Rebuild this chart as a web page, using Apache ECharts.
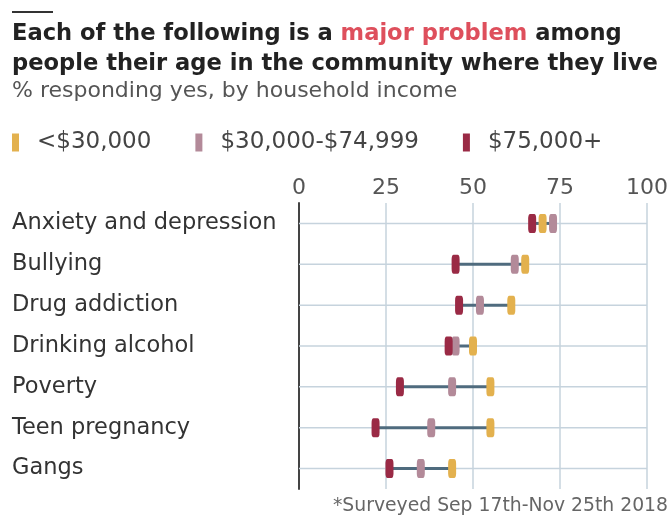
<!DOCTYPE html>
<html><head><meta charset="utf-8">
<script src="https://cdn.jsdelivr.net/npm/echarts@6/dist/echarts.min.js"></script>
<style>html,body{margin:0;padding:0;background:#fff}#c{width:671px;height:517px}</style>
</head><body><div id="c"></div>
<script>
const categories = ["Anxiety and depression","Bullying","Drug addiction","Drinking alcohol","Poverty","Teen pregnancy","Gangs"];
const seriesNames = ["<$30,000","$30,000-$74,999","$75,000+"];
const under30k = [70, 65, 61, 50, 55, 55, 44];
const mid30to75k = [73, 62, 52, 45, 44, 38, 35];
const over75k = [67, 45, 46, 43, 29, 22, 26];
const xTicks = [0, 25, 50, 75, 100];

const colors = ["#e3b14e", "#b38a99", "#9a2a45"];
const FONT = "DejaVu Sans";

const rangeData = categories.map((c, i) => {
  const v = [under30k[i], mid30to75k[i], over75k[i]];
  return [i, Math.min(...v), Math.max(...v)];
});

const chart = echarts.init(document.getElementById('c'), null, {renderer: 'canvas'});
chart.setOption({
  backgroundColor: '#fff',
  animation: false,
  textStyle: {fontFamily: FONT},
  title: {
    left: 12, top: 19, padding: 0,
    text: '{b|Each of the following is a }{r|major problem}{b| among}\n{b|people their age in the community where they live}',
    textStyle: {
      rich: {
        b: {fontFamily: FONT, fontWeight: 'bold', fontSize: 22.6, color: '#222', lineHeight: 30},
        r: {fontFamily: FONT, fontWeight: 'bold', fontSize: 22.6, color: '#de4f5c', lineHeight: 30}
      }
    }
  },
  legend: {
    left: 12, top: 131, padding: 0,
    icon: 'rect', itemWidth: 7, itemHeight: 18, itemGap: 44,
    textStyle: {fontFamily: FONT, fontSize: 23, color: '#444', padding: [0, 0, 0, 13]},
    data: seriesNames
  },
  graphic: [
    {type: 'rect', shape: {x: 12, y: 11, width: 41, height: 2}, style: {fill: '#333'}},
    {type: 'text', left: 12, top: 80, style: {text: '% responding yes, by household income', font: '22px "DejaVu Sans"', fill: '#555'}},
    {type: 'text', right: 3, top: 497, style: {text: '*Surveyed Sep 17th-Nov 25th 2018', font: '18.8px "DejaVu Sans"', fill: '#666'}}
  ],
  grid: {left: 299, right: 22, top: 203, bottom: 28, containLabel: false},
  xAxis: {
    type: 'value', position: 'top', min: 0, max: 100, interval: 25,
    axisLine: {show: false}, axisTick: {show: false},
    axisLabel: {fontFamily: FONT, fontSize: 22, color: '#555', margin: 4},
    splitLine: {show: true, lineStyle: {color: '#c6d3dd', width: 1.5}}
  },
  yAxis: {
    type: 'category', inverse: true, data: categories,
    axisLine: {show: true, lineStyle: {color: '#444', width: 2}},
    axisTick: {show: false},
    axisLabel: {fontFamily: FONT, fontSize: 22.5, color: '#333', align: 'left', margin: 287},
    splitLine: {show: false}
  },
  series: [
    {
      type: 'custom', name: 'range', silent: true, z: 1,
      data: rangeData,
      encode: {y: 0, x: [1, 2]},
      renderItem: function (params, api) {
        const y = api.value(0);
        const g0 = api.coord([0, y]);
        const g1 = api.coord([100, y]);
        const a = api.coord([api.value(1), y]);
        const b = api.coord([api.value(2), y]);
        return {type: 'group', children: [
          {type: 'line', shape: {x1: g0[0], y1: g0[1], x2: g1[0], y2: g1[1]}, style: {stroke: '#c6d3dd', lineWidth: 1.5}},
          {type: 'line', shape: {x1: a[0], y1: a[1], x2: b[0], y2: b[1]}, style: {stroke: '#4f6b7e', lineWidth: 3}}
        ]};
      }
    },
    {type: 'scatter', name: seriesNames[0], data: under30k, symbol: 'roundRect', symbolSize: [8, 19], itemStyle: {color: colors[0], opacity: 1}, z: 3},
    {type: 'scatter', name: seriesNames[1], data: mid30to75k, symbol: 'roundRect', symbolSize: [8, 19], itemStyle: {color: colors[1], opacity: 1}, z: 3},
    {type: 'scatter', name: seriesNames[2], data: over75k, symbol: 'roundRect', symbolSize: [8, 19], itemStyle: {color: colors[2], opacity: 1}, z: 3}
  ]
});
</script></body></html>
